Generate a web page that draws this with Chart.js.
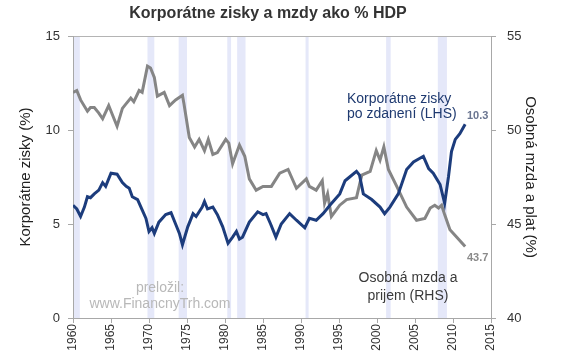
<!DOCTYPE html>
<html>
<head>
<meta charset="utf-8">
<script src="https://cdn.jsdelivr.net/npm/chart.js@4"></script>
<style>
  html, body { margin: 0; padding: 0; background: #fff; }
  #wrap { width: 571px; height: 361px; }
</style>
</head>
<body>
<div id="wrap"><canvas id="chart"></canvas></div>
<script>
// mzdy (RHS), % HDP
const wageYears = [1960.0, 1960.5, 1961.0, 1961.9, 1962.3, 1962.8, 1963.4, 1963.9, 1964.7, 1965.2,
  1965.8, 1966.5, 1967.0, 1967.6, 1968.0, 1968.7, 1969.1, 1969.6, 1969.8, 1970.2,
  1970.7, 1971.1, 1972.0, 1972.7, 1973.5, 1974.4, 1974.6, 1975.3, 1976.0, 1976.6,
  1977.3, 1977.8, 1978.4, 1979.0, 1980.1, 1980.5, 1981.0, 1981.9, 1982.6, 1983.2,
  1984.1, 1985.0, 1986.1, 1987.2, 1988.3, 1989.4, 1990.7, 1991.1, 1992.0, 1992.8,
  1993.1, 1993.5, 1994.0, 1995.1, 1996.0, 1997.3, 1998.0, 1999.1, 1999.9, 2000.4,
  2000.9, 2001.5, 2002.6, 2003.9, 2005.2, 2006.3, 2007.0, 2007.6, 2008.1, 2008.5,
  2008.9, 2009.6, 2010.5, 2011.6];
const wageValues = [52.0, 52.1, 51.6, 51.0, 51.2, 51.2, 50.9, 50.6, 51.3, 50.8,
  50.2, 51.15, 51.4, 51.7, 51.5, 52.1, 52.0, 53.0, 53.4, 53.3,
  52.8, 51.8, 52.0, 51.3, 51.6, 51.85, 51.4, 49.6, 49.1, 49.5,
  48.9, 49.5, 48.7, 48.8, 49.5, 49.3, 48.2, 49.2, 48.6, 47.4,
  46.8, 47.0, 47.0, 47.7, 47.9, 46.9, 47.4, 47.0, 46.8, 47.3,
  46.1, 46.6, 45.4, 46.0, 46.3, 46.4, 47.6, 47.8, 48.9, 48.4,
  49.1, 47.9, 47.0, 45.9, 45.2, 45.3, 45.85, 46.0, 45.85, 46.0,
  45.5, 44.7, 44.3, 43.8];

// korporátne zisky po zdanení (LHS), % HDP
const profitYears = [1960.0, 1960.5, 1961.0, 1961.5, 1961.9, 1962.3, 1962.8, 1963.4, 1963.9, 1964.3,
  1965.0, 1965.8, 1966.5, 1967.0, 1967.4, 1967.8, 1968.5, 1969.1, 1969.6, 1970.0,
  1970.4, 1970.7, 1971.3, 1972.2, 1972.9, 1973.5, 1974.0, 1974.4, 1975.1, 1975.8,
  1976.2, 1977.0, 1977.3, 1977.7, 1978.4, 1979.0, 1979.7, 1980.4, 1981.0, 1981.5,
  1981.9, 1982.3, 1983.2, 1984.3, 1985.0, 1985.4, 1986.0, 1986.7, 1987.4, 1988.5,
  1989.4, 1990.5, 1991.1, 1992.0, 1992.9, 1993.8, 1995.1, 1995.8, 1996.4, 1997.3,
  1997.7, 1998.2, 1999.3, 2000.4, 2001.0, 2001.7, 2002.8, 2003.9, 2004.8, 2006.1,
  2006.8, 2007.4, 2008.3, 2008.9, 2009.4, 2009.8, 2010.3, 2010.9, 2011.6];
const profitValues = [6.0, 5.8, 5.4, 5.9, 6.45, 6.4, 6.6, 6.8, 7.2, 7.0,
  7.7, 7.65, 7.2, 7.0, 6.9, 6.45, 6.3, 5.75, 5.3, 4.6,
  4.8, 4.5, 5.1, 5.5, 5.6, 5.0, 4.5, 3.9, 4.85, 5.55,
  5.4, 5.9, 6.2, 5.8, 5.9, 5.5, 4.85, 3.97, 4.3, 4.6,
  4.2, 4.3, 5.1, 5.65, 5.5, 5.55, 5.0, 4.3, 5.0, 5.55,
  5.2, 4.8, 5.3, 5.2, 5.55, 6.0, 6.6, 7.3, 7.5, 7.8,
  7.6, 6.6, 6.3, 5.9, 5.55, 5.9, 6.6, 7.9, 8.3, 8.6,
  7.95, 7.7, 7.1, 6.1, 7.5, 8.85, 9.5, 9.8, 10.3];

// recesie (pásy v pozadí)
const recessionStarts = [1960.0, 1969.8, 1973.9, 1980.3, 1981.6, 1990.6, 2001.2, 2008.0];
const recessionEnds   = [1960.9, 1970.7, 1975.0, 1980.8, 1982.7, 1991.0, 2001.8, 2009.2];

const leftTicks = [0, 5, 10, 15];
const rightTicks = [40, 45, 50, 55];
const yearTicks = [1960, 1965, 1970, 1975, 1980, 1985, 1990, 1995, 2000, 2005, 2010, 2015];

const FONT = "'Liberation Sans', Arial, sans-serif";

function toPoints(xs, ys) {
  return xs.map((x, i) => ({ x: x, y: ys[i] }));
}

const bandsPlugin = {
  id: 'bands',
  beforeDraw(chart) {
    const ctx = chart.ctx;
    const area = chart.chartArea;
    const xs = chart.scales.x;
    ctx.save();
    ctx.fillStyle = '#e5e8f9';
    recessionStarts.forEach((s, i) => {
      const x0 = xs.getPixelForValue(s);
      const x1 = xs.getPixelForValue(recessionEnds[i]);
      ctx.fillRect(x0, area.top, x1 - x0, area.bottom - area.top);
    });
    ctx.strokeStyle = '#b4b4b4';
    ctx.lineWidth = 1;
    ctx.beginPath();
    ctx.moveTo(area.left, area.top + 0.5);
    ctx.lineTo(area.right, area.top + 0.5);
    ctx.stroke();
    ctx.restore();
  }
};

const textPlugin = {
  id: 'texts',
  afterDraw(chart) {
    const ctx = chart.ctx;
    ctx.save();
    ctx.textBaseline = 'middle';

    ctx.fillStyle = '#333';
    ctx.font = 'bold 16px ' + FONT;
    ctx.textAlign = 'center';
    ctx.fillText('Korporátne zisky a mzdy ako % HDP', 268, 14);

    ctx.fillStyle = '#1f3a70';
    ctx.font = '14px ' + FONT;
    ctx.textAlign = 'left';
    ctx.fillText('Korporátne zisky', 347, 99);
    ctx.fillText('po zdanení (LHS)', 347, 114);

    ctx.fillStyle = '#3a3a3a';
    ctx.textAlign = 'center';
    ctx.fillText('Osobná mzda a', 408, 278);
    ctx.fillText('prijem (RHS)', 408, 296);

    ctx.fillStyle = '#b8b8b8';
    ctx.fillText('preložil:', 160, 288);
    ctx.fillText('www.FinancnyTrh.com', 160, 304);

    ctx.font = 'bold 11px ' + FONT;
    ctx.textAlign = 'left';
    ctx.fillStyle = '#6a7590';
    ctx.fillText('10.3', 467, 116);
    ctx.fillStyle = '#8a8a8a';
    ctx.fillText('43.7', 467, 258);
    ctx.restore();
  }
};

new Chart(document.getElementById('chart'), {
  type: 'line',
  data: {
    datasets: [
      {
        label: 'Korporátne zisky po zdanení (LHS)',
        data: toPoints(profitYears, profitValues),
        yAxisID: 'y',
        borderColor: '#1c3c7c',
        borderWidth: 3,
        pointRadius: 0,
        tension: 0
      },
      {
        label: 'Osobná mzda a prijem (RHS)',
        data: toPoints(wageYears, wageValues),
        yAxisID: 'y2',
        borderColor: '#858585',
        borderWidth: 3,
        pointRadius: 0,
        tension: 0
      }
    ]
  },
  options: {
    responsive: true,
    maintainAspectRatio: false,
    animation: false,
    devicePixelRatio: 1,
    layout: { padding: { top: 36, left: 0, right: 0, bottom: 0 } },
    plugins: {
      legend: { display: false },
      title: { display: false },
      tooltip: { enabled: false }
    },
    scales: {
      x: {
        type: 'linear',
        min: 1960,
        max: 2015,
        afterBuildTicks: s => { s.ticks = yearTicks.map(v => ({ value: v })); },
        afterFit: s => { s.height = 43; },
        ticks: {
          maxRotation: 90,
          minRotation: 90,
          padding: 1,
          color: '#333',
          font: { family: FONT, size: 12 },
          callback: v => String(v)
        },
        grid: { drawOnChartArea: false, drawTicks: true, tickLength: 5, color: '#a8a8a8' },
        border: { color: '#a8a8a8' }
      },
      y: {
        position: 'left',
        min: 0,
        max: 15,
        afterBuildTicks: s => { s.ticks = leftTicks.map(v => ({ value: v })); },
        afterFit: s => { s.width = 73; },
        ticks: { padding: 8, color: '#333', font: { family: FONT, size: 13 } },
        grid: { drawOnChartArea: false, tickLength: 5, color: '#a8a8a8' },
        border: { color: '#a8a8a8' },
        title: {
          display: true,
          text: 'Korporátne zisky (%)',
          color: '#222',
          font: { family: FONT, size: 15 },
          padding: { top: 17, bottom: 0 }
        }
      },
      y2: {
        position: 'right',
        min: 40,
        max: 55,
        afterBuildTicks: s => { s.ticks = rightTicks.map(v => ({ value: v })); },
        afterFit: s => { s.width = 80; },
        ticks: { padding: 11, color: '#333', font: { family: FONT, size: 13 } },
        grid: { drawOnChartArea: false, tickLength: 5, color: '#a8a8a8' },
        border: { color: '#a8a8a8' },
        title: {
          display: true,
          text: 'Osobná mzda a plat (%)',
          color: '#222',
          font: { family: FONT, size: 15 },
          padding: { top: 32, bottom: 0 }
        }
      }
    }
  },
  plugins: [bandsPlugin, textPlugin]
});
</script>
</body>
</html>
